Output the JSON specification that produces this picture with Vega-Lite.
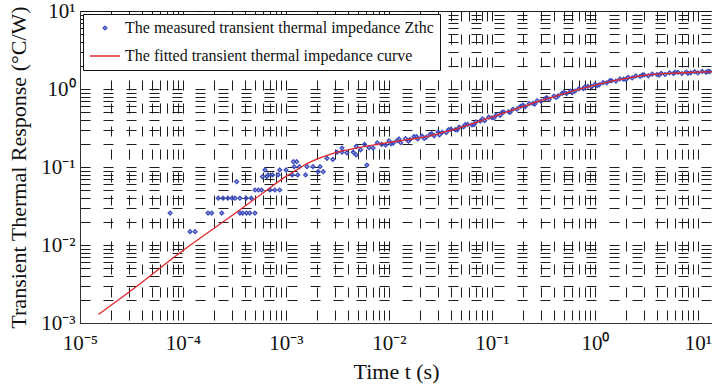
{
  "$schema": "https://vega.github.io/schema/vega-lite/v6.json",
  "width": 632,
  "height": 312,
  "autosize": {"type": "none"},
  "padding": {"left": 80, "top": 11, "right": 0, "bottom": 69},
  "background": "white",
  "config": {
    "font": "Liberation Serif",
    "view": {"stroke": "#222", "strokeWidth": 1},
    "axis": {
      "labelFont": "Liberation Serif",
      "titleFont": "Liberation Serif",
      "labelFontSize": 21,
      "titleFontSize": 22,
      "titleFontWeight": "normal",
      "labelColor": "#111",
      "titleColor": "#111",
      "domainColor": "#333",
      "tickColor": "#333",
      "gridColor": "#111",
      "gridDash": [10, 13],
      "gridOpacity": 0.95,
      "gridWidth": 1
    }
  },
  "datasets": {
    "measured": [
      {"t": 0.000075, "z": 0.0257},
      {"t": 0.000117, "z": 0.0148}, {"t": 0.000131, "z": 0.0148},
      {"t": 0.000175, "z": 0.0257}, {"t": 0.00019, "z": 0.0257}, {"t": 0.000238, "z": 0.0257},
      {"t": 0.000357, "z": 0.0257}, {"t": 0.00038, "z": 0.0257}, {"t": 0.000413, "z": 0.0257},
      {"t": 0.000445, "z": 0.0257}, {"t": 0.0005, "z": 0.0257},
      {"t": 0.00022, "z": 0.0398}, {"t": 0.000245, "z": 0.0398}, {"t": 0.000273, "z": 0.0398},
      {"t": 0.0003, "z": 0.0398}, {"t": 0.00032, "z": 0.0398}, {"t": 0.000357, "z": 0.0398},
      {"t": 0.00041, "z": 0.0398}, {"t": 0.00046, "z": 0.0398},
      {"t": 0.000332, "z": 0.0649},
      {"t": 0.0005, "z": 0.0507}, {"t": 0.00054, "z": 0.0507}, {"t": 0.00058, "z": 0.0507},
      {"t": 0.0007, "z": 0.0507}, {"t": 0.00078, "z": 0.0507}, {"t": 0.00087, "z": 0.0507},
      {"t": 0.00059, "z": 0.075}, {"t": 0.00065, "z": 0.075},
      {"t": 0.000625, "z": 0.0916},
      {"t": 0.00067, "z": 0.079}, {"t": 0.00074, "z": 0.079}, {"t": 0.00084, "z": 0.079},
      {"t": 0.00087, "z": 0.0916}, {"t": 0.001, "z": 0.0916},
      {"t": 0.00118, "z": 0.117}, {"t": 0.00127, "z": 0.117},
      {"t": 0.00115, "z": 0.079}, {"t": 0.0013, "z": 0.079}, {"t": 0.00155, "z": 0.079},
      {"t": 0.0012, "z": 0.101}, {"t": 0.00135, "z": 0.101},
      {"t": 0.0016, "z": 0.101}, {"t": 0.00183, "z": 0.101}, {"t": 0.00214, "z": 0.101},
      {"t": 0.00205, "z": 0.087}, {"t": 0.0023, "z": 0.087},
      {"t": 0.0025, "z": 0.129}, {"t": 0.00285, "z": 0.125},
      {"t": 0.00313, "z": 0.155}, {"t": 0.0035, "z": 0.155}, {"t": 0.0039, "z": 0.152}, {"t": 0.0045, "z": 0.155},
      {"t": 0.0035, "z": 0.175},
      {"t": 0.0048, "z": 0.143},
      {"t": 0.0061, "z": 0.106},
      {"t": 0.0048, "z": 0.184}, {"t": 0.0053, "z": 0.166}, {"t": 0.0058, "z": 0.195}, {"t": 0.0064, "z": 0.177},
      {"t": 0.007, "z": 0.175}, {"t": 0.0077, "z": 0.204}, {"t": 0.0085, "z": 0.195}, {"t": 0.0093, "z": 0.191},
      {"t": 0.01, "z": 0.217}, {"t": 0.011, "z": 0.202}, {"t": 0.012, "z": 0.218}, {"t": 0.013, "z": 0.205},
      {"t": 0.0145, "z": 0.231}, {"t": 0.016, "z": 0.225}, {"t": 0.0175, "z": 0.245}, {"t": 0.019, "z": 0.229},
      {"t": 0.021, "z": 0.248}, {"t": 0.023, "z": 0.241}, {"t": 0.025, "z": 0.261}, {"t": 0.0275, "z": 0.251},
      {"t": 0.03, "z": 0.281}, {"t": 0.033, "z": 0.279}, {"t": 0.036, "z": 0.276}, {"t": 0.04, "z": 0.304},
      {"t": 0.044, "z": 0.301}, {"t": 0.048, "z": 0.324}, {"t": 0.053, "z": 0.327}, {"t": 0.058, "z": 0.353},
      {"t": 0.064, "z": 0.346}, {"t": 0.07, "z": 0.379}, {"t": 0.077, "z": 0.388}, {"t": 0.085, "z": 0.393},
      {"t": 0.093, "z": 0.435},
      {"t": 0.1, "z": 0.428}, {"t": 0.11, "z": 0.465}, {"t": 0.12, "z": 0.459}, {"t": 0.13, "z": 0.506},
      {"t": 0.145, "z": 0.511}, {"t": 0.16, "z": 0.55}, {"t": 0.175, "z": 0.55}, {"t": 0.19, "z": 0.6},
      {"t": 0.21, "z": 0.591}, {"t": 0.23, "z": 0.648}, {"t": 0.25, "z": 0.653}, {"t": 0.275, "z": 0.705},
      {"t": 0.3, "z": 0.695}, {"t": 0.33, "z": 0.752}, {"t": 0.36, "z": 0.74}, {"t": 0.4, "z": 0.812},
      {"t": 0.44, "z": 0.818}, {"t": 0.48, "z": 0.881}, {"t": 0.53, "z": 0.873}, {"t": 0.58, "z": 0.941},
      {"t": 0.64, "z": 0.94}, {"t": 0.7, "z": 1.01}, {"t": 0.77, "z": 1.013}, {"t": 0.85, "z": 1.081},
      {"t": 0.93, "z": 1.072},
      {"t": 1.0, "z": 1.144}, {"t": 1.1, "z": 1.131}, {"t": 1.2, "z": 1.209}, {"t": 1.3, "z": 1.202},
      {"t": 1.45, "z": 1.279}, {"t": 1.6, "z": 1.265}, {"t": 1.75, "z": 1.347}, {"t": 1.9, "z": 1.335},
      {"t": 2.1, "z": 1.41}, {"t": 2.3, "z": 1.386}, {"t": 2.5, "z": 1.473}, {"t": 2.75, "z": 1.451},
      {"t": 3.0, "z": 1.514}, {"t": 3.3, "z": 1.476}, {"t": 3.6, "z": 1.556}, {"t": 4.0, "z": 1.534},
      {"t": 4.4, "z": 1.592}, {"t": 4.8, "z": 1.539}, {"t": 5.3, "z": 1.614}, {"t": 5.8, "z": 1.577},
      {"t": 6.4, "z": 1.636}, {"t": 7.0, "z": 1.58}, {"t": 7.7, "z": 1.652}, {"t": 8.5, "z": 1.611},
      {"t": 9.3, "z": 1.667},
      {"t": 10, "z": 1.608}, {"t": 11, "z": 1.679}, {"t": 12, "z": 1.635}, {"t": 13, "z": 1.673},
      {"t": 0.0105, "z": 0.198}, {"t": 0.0125, "z": 0.229}, {"t": 0.0155, "z": 0.214}, {"t": 0.0185, "z": 0.246},
      {"t": 0.022, "z": 0.232}, {"t": 0.026, "z": 0.267}, {"t": 0.031, "z": 0.259}, {"t": 0.038, "z": 0.302},
      {"t": 0.046, "z": 0.3}, {"t": 0.055, "z": 0.349}, {"t": 0.067, "z": 0.349}, {"t": 0.081, "z": 0.413},
      {"t": 0.105, "z": 0.428}, {"t": 0.125, "z": 0.501}, {"t": 0.15, "z": 0.503}, {"t": 0.2, "z": 0.62},
      {"t": 0.26, "z": 0.642}, {"t": 0.34, "z": 0.775}, {"t": 0.42, "z": 0.779}, {"t": 0.5, "z": 0.905},
      {"t": 0.6, "z": 0.9}, {"t": 0.8, "z": 1.067}, {"t": 1.05, "z": 1.104}, {"t": 1.4, "z": 1.278},
      {"t": 2.0, "z": 1.325}, {"t": 2.9, "z": 1.522}, {"t": 4.2, "z": 1.509}, {"t": 6.0, "z": 1.645},
      {"t": 8.0, "z": 1.59}, {"t": 12.5, "z": 1.687}
    ],
    "fitted": [
      {"t": 0.00001514, "z": 0.001288},
      {"t": 0.00003162, "z": 0.00263},
      {"t": 0.0001, "z": 0.00851},
      {"t": 0.0003162, "z": 0.0251},
      {"t": 0.000631, "z": 0.049},
      {"t": 0.001, "z": 0.0759},
      {"t": 0.001259, "z": 0.0912},
      {"t": 0.001585, "z": 0.1096},
      {"t": 0.001995, "z": 0.1259},
      {"t": 0.002512, "z": 0.1413},
      {"t": 0.003162, "z": 0.1549},
      {"t": 0.003981, "z": 0.166},
      {"t": 0.00631, "z": 0.1862},
      {"t": 0.01, "z": 0.2065},
      {"t": 0.01585, "z": 0.2265},
      {"t": 0.02512, "z": 0.2512},
      {"t": 0.03981, "z": 0.2951},
      {"t": 0.0631, "z": 0.3548},
      {"t": 0.1, "z": 0.4365},
      {"t": 0.1585, "z": 0.537},
      {"t": 0.2512, "z": 0.6607},
      {"t": 0.3981, "z": 0.7943},
      {"t": 0.631, "z": 0.955},
      {"t": 1.0, "z": 1.122},
      {"t": 1.585, "z": 1.288},
      {"t": 2.512, "z": 1.445},
      {"t": 3.981, "z": 1.549},
      {"t": 6.31, "z": 1.603},
      {"t": 10, "z": 1.641},
      {"t": 13.8, "z": 1.66}
    ]
  },
  "layer": [
    {
      "data": {"name": "measured"},
      "transform": [{"calculate": "'The measured transient thermal impedance Zthc'", "as": "series"}],
      "mark": {"type": "point", "filled": false, "strokeWidth": 1.5, "opacity": 1, "clip": true},
      "encoding": {
        "x": {
          "field": "t", "type": "quantitative",
          "scale": {"type": "log", "domain": [0.00001, 13.7], "nice": false},
          "axis": {
            "title": "Time t (s)",
            "titlePadding": 8,
            "grid": true,
            "tickSize": 0,
            "labelPadding": 9,
            "labelFlush": false,
            "labelOverlap": false,
            "values": [0.00001,0.00002,0.00003,0.00004,0.00005,0.00006,0.00007,0.00008,0.00009,
                       0.0001,0.0002,0.0003,0.0004,0.0005,0.0006,0.0007,0.0008,0.0009,
                       0.001,0.002,0.003,0.004,0.005,0.006,0.007,0.008,0.009,
                       0.01,0.02,0.03,0.04,0.05,0.06,0.07,0.08,0.09,
                       0.1,0.2,0.3,0.4,0.5,0.6,0.7,0.8,0.9,
                       1,2,3,4,5,6,7,8,9,10],
            "labelExpr": "datum.value == 0.00001 ? '10⁻⁵' : datum.value == 0.0001 ? '10⁻⁴' : datum.value == 0.001 ? '10⁻³' : datum.value == 0.01 ? '10⁻²' : datum.value == 0.1 ? '10⁻¹' : datum.value == 1 ? '10⁰' : datum.value == 10 ? '10¹' : ''"
          }
        },
        "y": {
          "field": "z", "type": "quantitative",
          "scale": {"type": "log", "domain": [0.001, 10], "nice": false},
          "axis": {
            "title": "Transient Thermal Response (°C/W)",
            "titlePadding": 10,
            "grid": true,
            "tickSize": 0,
            "labelPadding": 5,
            "labelFlush": false,
            "labelOverlap": false,
            "values": [0.001,0.002,0.003,0.004,0.005,0.006,0.007,0.008,0.009,
                       0.01,0.02,0.03,0.04,0.05,0.06,0.07,0.08,0.09,
                       0.1,0.2,0.3,0.4,0.5,0.6,0.7,0.8,0.9,
                       1,2,3,4,5,6,7,8,9,10],
            "labelExpr": "datum.value == 0.001 ? '10⁻³' : datum.value == 0.01 ? '10⁻²' : datum.value == 0.1 ? '10⁻¹' : datum.value == 1 ? '10⁰' : datum.value == 10 ? '10¹' : ''"
          }
        },
        "color": {
          "field": "series", "type": "nominal",
          "scale": {"domain": ["The measured transient thermal impedance Zthc", "The fitted transient thermal impedance curve"], "range": ["#3f4fbf", "#e0262a"]},
          "legend": {
            "title": null,
            "orient": "none",
            "legendX": 3,
            "legendY": 3,
            "fillColor": "white",
            "strokeColor": "#111",
            "padding": 6,
            "labelFont": "Liberation Serif",
            "labelFontSize": 16,
            "labelColor": "#111",
            "labelLimit": 400,
            "rowPadding": 4,
            "symbolStrokeWidth": 1.5
          }
        },
        "shape": {
          "field": "series", "type": "nominal",
          "scale": {"domain": ["The measured transient thermal impedance Zthc", "The fitted transient thermal impedance curve"], "range": ["diamond", "stroke"]},
          "legend": null
        },
        "size": {
          "field": "series", "type": "nominal",
          "scale": {"domain": ["The measured transient thermal impedance Zthc", "The fitted transient thermal impedance curve"], "range": [13, 900]},
          "legend": null
        }
      }
    },
    {
      "data": {"name": "fitted"},
      "transform": [{"calculate": "'The fitted transient thermal impedance curve'", "as": "series"}],
      "mark": {"type": "line", "interpolate": "monotone", "strokeWidth": 1.3, "clip": true},
      "encoding": {
        "x": {"field": "t", "type": "quantitative"},
        "y": {"field": "z", "type": "quantitative"},
        "color": {"field": "series", "type": "nominal"}
      }
    }
  ]
}
